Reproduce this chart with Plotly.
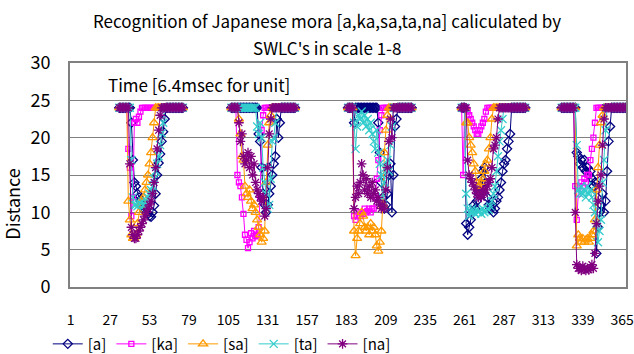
import plotly.graph_objects as go

# ---- data ----
categories_start = [33, 107, 184, 259, 325]   # first category of each recorded mora block
block_len = 43
cap = 24
tick_labels = [1, 27, 53, 79, 105, 131, 157, 183, 209, 235, 261, 287, 313, 339, 365]
series_names = ["[a]", "[ka]", "[sa]", "[ta]", "[na]"]

a_c1 = [24]*8 + [22, 17, 14, 13.5, 12.5, 12, 11.5, 11, 10.5, 10.2, 10, 9.8, 9.5, 9.4, 10, 10.9, 12.5, 15, 16.6, 17.8, 19.5, 20.8, 22.5]
a_c2 = [24]*18 + [20.5, 19.5, 16, 12.5, 11, 10, 11, 12.5, 13.5, 15, 16.5, 17.5, 22.5, 20, 22]
a_c3 = [24]*4 + [22] + [24]*15 + [22, 18, 14, 12, 10.5, 11, 12.5, 15, 16.5, 10, 15, 21.5, 22.5]
a_c4 = [24]*3 + [8.5, 7, 8, 9, 10, 11, 10.5, 11.5, 12.5, 13.5, 14.5, 15.5, 16, 14, 12, 11, 10.5, 11, 10, 10.5, 11.5, 12, 13, 14, 15.5, 16.5, 17, 18.5, 19.5, 20.5]
a_c5 = [24]*10 + [18, 17.5, 16.5, 17, 16, 17, 15.5, 16, 15, 15.5, 14.5, 13.5, 14, 4.5, 8, 10, 11, 12.5, 10, 11.5, 15.5, 19.5, 21.5]

ka_c1 = [24]*6 + [18.5, 16, 9.5, 12, 22, 22.5, 22, 22.8, 23.5]
ka_c2 = [24]*4 + [15, 14, 13.5, 12, 9.8, 7, 6.3, 5.2, 6, 7.2, 6.5, 7.5, 6.8, 7, 8, 12, 21, 23]
ka_c3 = [24]*4 + [9.5, 9, 9.5, 10, 9.5, 10, 9.8, 10.5, 10, 10.2, 10.5, 10, 10.5, 10.5, 12, 14.5, 17, 21, 23]
ka_c4 = [24, 15, 24, 24, 23.5, 23, 22.5, 22, 21.5, 21, 20.5, 20.5, 21, 21.5, 22, 22.5, 23.5]
ka_c5 = [24]*9 + [13.5, 9, 12.5, 13.5, 14, 13.5, 14.5, 14, 15, 15, 17, 18.5, 20, 22]

sa_c1 = [24]*6 + [11.5, 9, 7, 6.5, 6.5, 7, 8.5, 10, 11, 11.5, 12, 13, 14, 15, 16.5, 18, 20, 22]
sa_c2 = [24]*5 + [22.5, 20.5, 17.5, 17, 13.5, 12.5, 12, 13, 11.5, 10.5, 11, 10, 9, 8, 7, 6, 6.5, 7.5, 14, 19, 22, 23]
sa_c3 = [24]*4 + [7.5, 4.2, 6.5, 7.5, 8.5, 10, 9.5, 8, 7.5, 8, 7, 8.5, 7.5, 8, 7, 5.5, 4.8, 6, 7.5, 11, 18, 21, 23]
sa_c4 = [24]*3 + [22, 22, 20, 19, 18, 16.5, 15.5, 14, 13.5, 13, 14, 14.5, 15.5, 16.5, 17, 18.5, 20, 22.5]
sa_c5 = [24]*10 + [5.5, 7, 6.5, 6, 6.5, 6, 6.3, 6.5, 6, 6.5, 7, 7.5, 9, 13, 16, 19, 22, 23]

ta_c1 = [24]*8 + [17, 12, 11, 11, 10.8, 11, 11.2, 11.5, 11, 11, 11.5, 12, 12.5, 13, 13.5, 14.5, 15.5, 16.5, 17.5, 19, 20.6, 22]
ta_c2 = [24]*17 + [21.5, 20.5, 22, 20, 16, 14, 12.5, 10.5, 11, 14.5, 19.5, 20, 22]
ta_c3 = [24]*4 + [22, 18.5, 21.5, 23, 22.5, 23.5, 22, 23, 21.5, 22.5, 21, 22, 20.5, 19.5, 18.5, 21, 18, 16.5, 15, 12, 14, 16, 17, 15.5, 19, 21.5]
ta_c4 = [24]*3 + [12.5, 10.5, 9.5, 10, 10.5, 10, 9.8, 10.3, 10, 10.2, 9.8, 10.5, 10, 10.2, 10.5, 10.3, 10.8, 11.5, 12.5, 13.5, 15.5, 17.5, 19.5, 21, 22.5]
ta_c5 = [24]*10 + [19, 13, 12.5, 13.5, 12.5, 13, 12, 13.5, 12.5, 13, 12, 11, 10, 8.5, 6, 7.5, 9, 14, 17, 21]

na_c1 = [24]*7 + [16.5, 8, 7, 6.5, 6.5, 7, 7.5, 8, 8.5, 9, 9.5, 10, 10.5, 11, 11.5, 12.5, 14, 16, 18.5, 21, 23]
na_c2 = [24]*5 + [22, 19.5, 20.5, 17.5, 16.5, 17, 18, 16, 17.5, 15, 16.5, 14, 13, 12.5, 12, 11.5, 12, 9.5, 10.5, 16, 20.5, 22.5]
na_c3 = [24]*4 + [10.5, 12, 13.5, 12.5, 14, 16.5, 15, 13, 14.5, 12.5, 13.5, 12, 14, 12.5, 13, 11.5, 12, 11, 10.5, 11, 10.5, 13, 16, 19.5, 22.5, 20]
na_c4 = [24]*4 + [17, 15, 14.5, 14, 13.5, 13, 12.5, 12, 12.5, 12, 13, 12.5, 13, 13.5, 14, 14.5, 16, 18.5, 19, 20, 22.5]
na_c5 = [24]*9 + [10, 3, 2.5, 2.5, 2.2, 2.8, 2.5, 2.2, 2.5, 2.3, 2.5, 3, 2.5, 4.5, 8.5, 11.5, 13.5, 15, 19, 22.5]

blocks = {
    "[a]": [a_c1, a_c2, a_c3, a_c4, a_c5],
    "[ka]": [ka_c1, ka_c2, ka_c3, ka_c4, ka_c5],
    "[sa]": [sa_c1, sa_c2, sa_c3, sa_c4, sa_c5],
    "[ta]": [ta_c1, ta_c2, ta_c3, ta_c4, ta_c5],
    "[na]": [na_c1, na_c2, na_c3, na_c4, na_c5],
}

styles = {
    "[a]": dict(color="#000080", symbol="diamond-open", size=7),
    "[ka]": dict(color="#FF00FF", symbol="square-open", size=5),
    "[sa]": dict(color="#FF9900", symbol="triangle-up-open", size=8),
    "[ta]": dict(color="#33CCCC", symbol="x-thin-open", size=8),
    "[na]": dict(color="#800080", symbol="asterisk-open", size=8),
}

FONT = "Noto Sans CJK JP"
fig = go.Figure()
for name in series_names:
    xs, ys = [], []
    for start, seg in zip(categories_start, blocks[name]):
        vals = seg + [cap] * (block_len - len(seg))
        xs += [start + i for i in range(len(vals))] + [None]
        ys += vals + [None]
    st = styles[name]
    fig.add_trace(go.Scatter(
        x=xs, y=ys, name=name, mode="lines+markers",
        line=dict(color=st["color"], width=1),
        marker=dict(symbol=st["symbol"], size=st["size"], color=st["color"],
                    line=dict(color=st["color"], width=1.3)),
        connectgaps=False,
    ))

fig.update_layout(
    width=634, height=354,
    margin=dict(l=70, r=8, t=63, b=67, autoexpand=False),
    paper_bgcolor="white", plot_bgcolor="white",
    font=dict(family=FONT, color="black"),
    showlegend=True,
    legend=dict(orientation="h", x=-0.04, xanchor="left", y=-0.255, yanchor="middle",
                font=dict(size=15, family=FONT), bgcolor="rgba(0,0,0,0)",
                itemwidth=30, tracegroupgap=0),
    annotations=[
        dict(text="Recognition of Japanese mora [a,ka,sa,ta,na] caliculated by",
             xref="paper", yref="paper", x=0.462, y=1.19, xanchor="center", yanchor="middle",
             showarrow=False, font=dict(size=17, family=FONT)),
        dict(text="SWLC's in scale 1-8",
             xref="paper", yref="paper", x=0.462, y=1.068, xanchor="center", yanchor="middle",
             showarrow=False, font=dict(size=17, family=FONT)),
        dict(text="Time [6.4msec for unit]",
             xref="paper", yref="paper", x=0.064, y=0.902, xanchor="left", yanchor="middle",
             showarrow=False, font=dict(size=17, family=FONT)),
        dict(text="Distance", textangle=-90,
             xref="paper", yref="paper", x=-0.105, y=0.37, xanchor="center", yanchor="middle",
             showarrow=False, font=dict(size=18, family=FONT)),
    ],
)
fig.update_xaxes(
    range=[0.5, 367.5], tickmode="array", tickvals=tick_labels,
    ticktext=[str(t) for t in tick_labels],
    showgrid=False, zeroline=False, ticks="",
    showline=True, linecolor="#808080", linewidth=2, mirror=True,
    tickfont=dict(size=14, family=FONT), ticklabelstandoff=19,
    ticklabeloverflow="allow",
)
fig.update_yaxes(
    range=[0, 30], tickmode="array", tickvals=[0, 5, 10, 15, 20, 25, 30],
    showgrid=True, gridcolor="#808080", gridwidth=1, zeroline=False,
    showline=True, linecolor="#808080", linewidth=2, mirror=True,
    ticks="", tickfont=dict(size=18, family=FONT), ticklabelstandoff=14,
)

fig.write_html("out.html", config={"displayModeBar": False},
               post_script="document.body.style.margin='0';")
